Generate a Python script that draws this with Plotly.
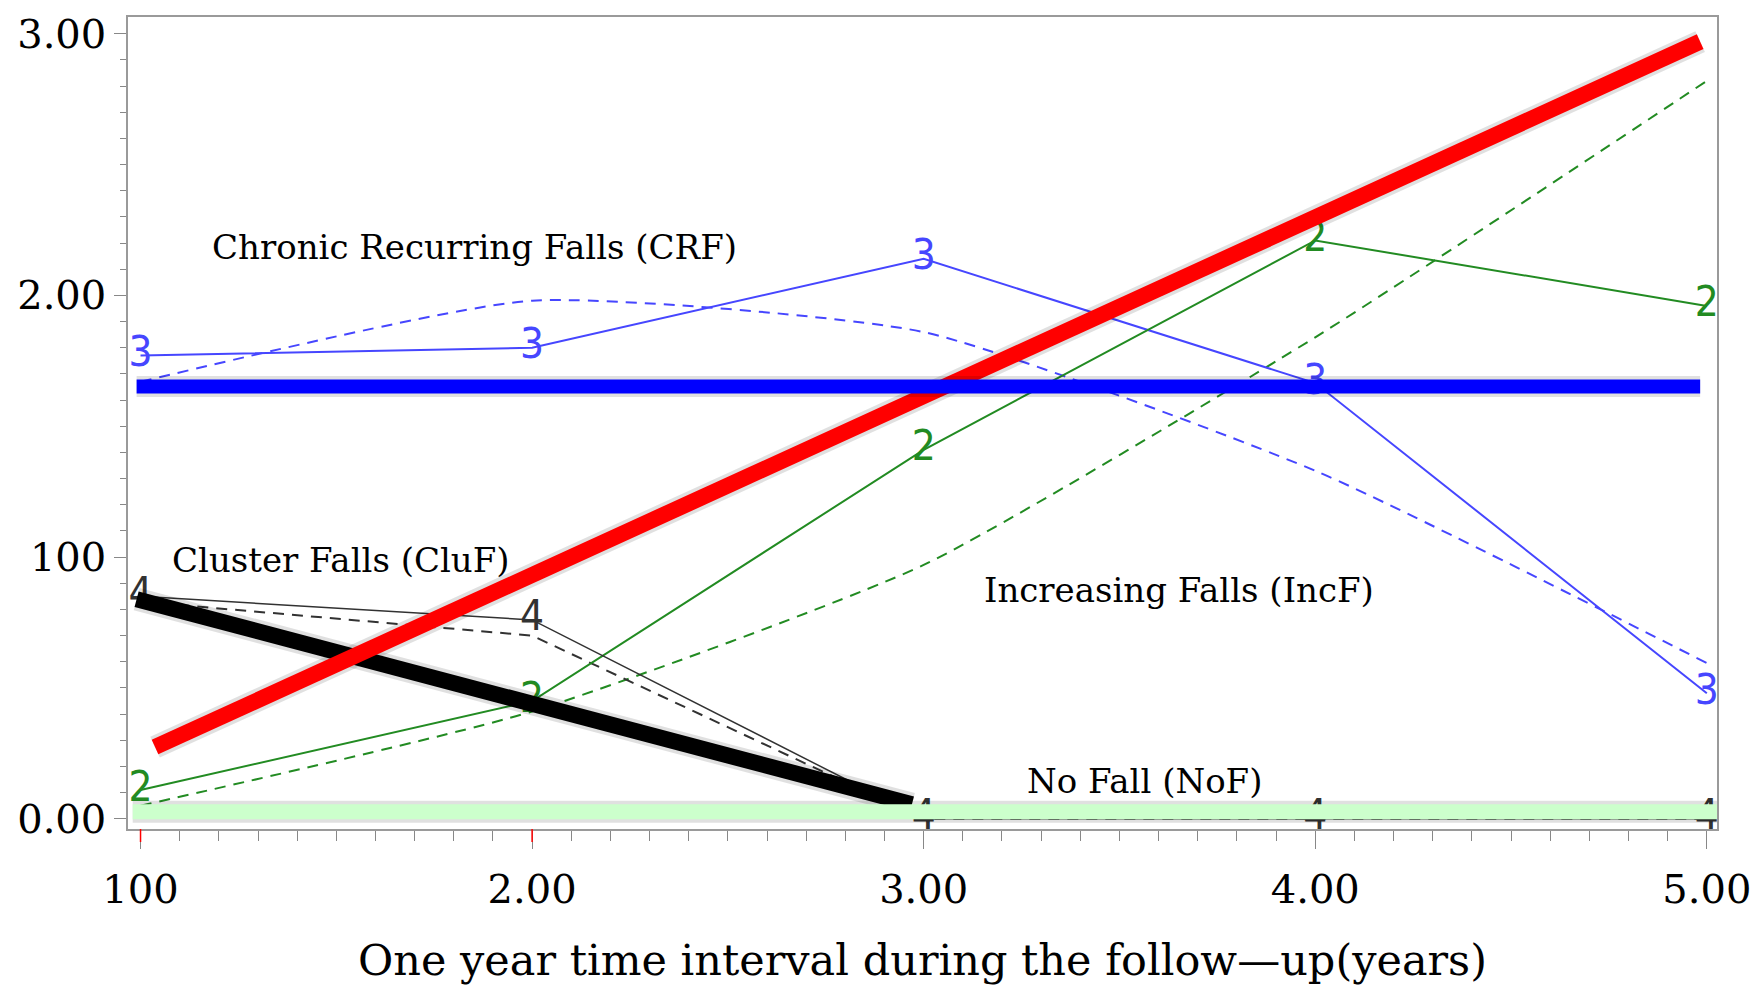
import plotly.graph_objects as go

# ---------------- data ----------------
years = [1, 2, 3, 4, 5]

crf_obs = [1.77, 1.80, 2.14, 1.665, 0.48]      # Chronic Recurring Falls, observed (3)
crf_fit = [1.67, 1.98, 1.86, 1.33, 0.595]      # CRF, predicted (dashed)
incf_obs = [0.11, 0.45, 1.41, 2.21, 1.96]      # Increasing Falls, observed (2)
incf_fit = [0.05, 0.41, 0.97, 1.84, 2.82]      # IncF, predicted (dashed)
cluf_obs = [0.85, 0.76, 0.0, 0.0, 0.0]         # Cluster Falls, observed (4)
cluf_fit = [0.83, 0.70, 0.0, 0.0, 0.0]         # CluF, predicted (dashed)

# hand-drawn overlay trend lines
red_x, red_y = [1.037, 4.983], [0.274, 2.97]
blue_x, blue_y = [0.99, 4.983], [1.652, 1.652]
black_x, black_y = [0.99, 2.97], [0.839, 0.056]
nof_x, nof_y = [0.98, 5.026], [0.027, 0.027]

x_tickvals = [1, 2, 3, 4, 5]
x_ticktext = ["100", "2.00", "3.00", "4.00", "5.00"]
y_tickvals = [0, 1, 2, 3]
y_ticktext = ["0.00", "100", "2.00", "3.00"]
red_tick_x = [1, 2]
x_title = "One year time interval during the follow\u2014up(years)"

labels = ["Chronic Recurring Falls (CRF)", "Cluster Falls (CluF)",
          "Increasing Falls (IncF)", "No Fall (NoF)"]
label_x = [1.854, 1.511, 3.651, 3.563]
label_y = [2.187, 0.988, 0.873, 0.145]

BLUE = "rgb(70,70,255)"
GREEN = "rgb(34,139,34)"
GRAY = "rgb(50,50,50)"
SERIF = "DejaVu Serif"
GLYPH = dict(family="Liberation Sans Narrow, DejaVu Sans Condensed, DejaVu Sans", size=42)

fig = go.Figure()

def series(y, color, sym, width):
    fig.add_trace(go.Scatter(
        x=years, y=y, mode="lines+text", text=[sym] * len(years),
        textposition="middle center",
        textfont=dict(GLYPH, color=color),
        line=dict(color=color, width=width), cliponaxis=False, showlegend=False))

def fitted(y, color, width, shape="spline"):
    fig.add_trace(go.Scatter(
        x=years, y=y, mode="lines",
        line=dict(color=color, width=width, dash="11px,8px", shape=shape, smoothing=0.55),
        showlegend=False))

fitted(crf_fit, BLUE, 2)
fitted(incf_fit, GREEN, 2)
fitted(cluf_fit, GRAY, 2, shape="linear")
series(crf_obs, BLUE, "3", 2)
series(incf_obs, GREEN, "2", 2)
series(cluf_obs, GRAY, "4", 1.5)

def thick(x, y, color, width, shadow=True):
    if shadow:
        fig.add_trace(go.Scatter(x=x, y=y, mode="lines",
                                 line=dict(color="rgba(0,0,0,0.12)", width=width + 7),
                                 showlegend=False))
    fig.add_trace(go.Scatter(x=x, y=y, mode="lines",
                             line=dict(color=color, width=width), showlegend=False))

thick(black_x, black_y, "black", 16)
thick(red_x, red_y, "red", 16)
thick(blue_x, blue_y, "blue", 14)
thick(nof_x, nof_y, "rgb(204,255,204)", 15)

for t, lx, ly in zip(labels, label_x, label_y):
    fig.add_annotation(x=lx, y=ly, text=t, showarrow=False,
                       font=dict(family=SERIF, size=34, color="black"))

# x-axis title placed below the tick labels
fig.add_annotation(x=0.5, y=-0.161, xref="paper", yref="paper", text=x_title,
                   showarrow=False, yanchor="middle",
                   font=dict(family=SERIF, size=43, color="black"))

for rx in red_tick_x:
    fig.add_shape(type="line", xref="x", yref="paper", x0=rx, x1=rx, y0=-0.016, y1=0,
                  line=dict(color="red", width=1.5))

axis_common = dict(showline=True, linecolor="#9a9a9a", linewidth=1.5, mirror=True,
                   ticks="outside", tickcolor="#888", showgrid=False, zeroline=False,
                   automargin=False,
                   tickfont=dict(family=SERIF, size=40, color="black"))

fig.update_xaxes(range=[0.968, 5.026], tickmode="array", tickvals=x_tickvals,
                 ticktext=x_ticktext, ticklen=18, ticklabelstandoff=6,
                 minor=dict(tickmode="linear", tick0=0, dtick=0.1, ticks="outside",
                            ticklen=10, tickcolor="#888"),
                 **axis_common)
fig.update_yaxes(range=[-0.039, 3.064], tickmode="array", tickvals=y_tickvals,
                 ticktext=y_ticktext, ticklen=12,
                 minor=dict(tickmode="linear", tick0=0, dtick=0.1, ticks="outside",
                            ticklen=6, tickcolor="#888"),
                 **axis_common)

fig.update_layout(width=1756, height=988, margin=dict(l=128, r=39, t=17, b=159),
                  plot_bgcolor="white", paper_bgcolor="white")

fig.write_html("out.html")
